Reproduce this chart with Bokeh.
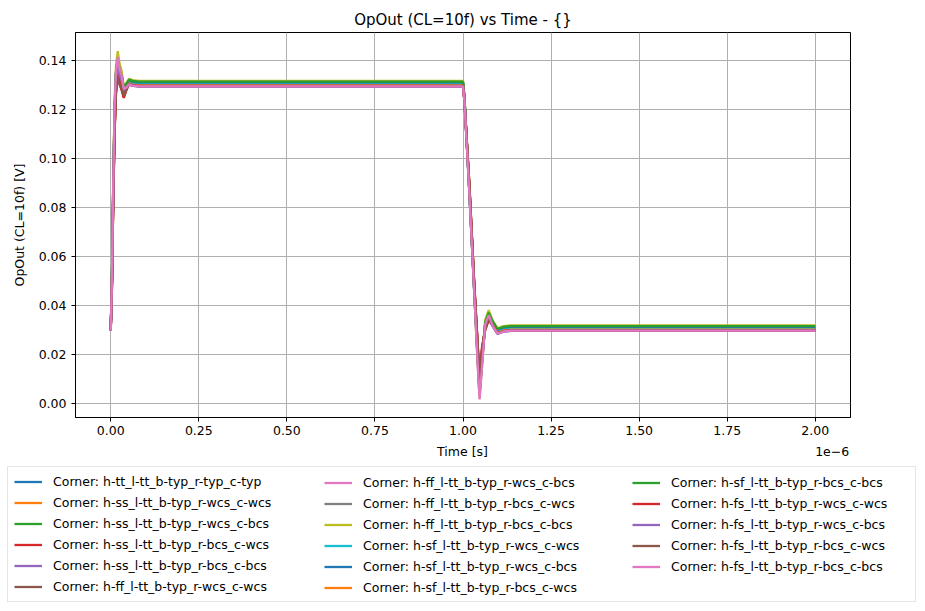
from bokeh.plotting import figure
from bokeh.layouts import column
from bokeh.models import Range1d, FixedTicker, NumeralTickFormatter, Legend, LegendItem, LinearAxis
from bokeh.embed import file_html
from bokeh.resources import INLINE

# time axis in microseconds (plot labelled "Time [s]" with 1e-6 offset)
time_us = [0.000, 0.003, 0.007, 0.011, 0.015, 0.020, 0.025, 0.031, 0.037, 0.044, 0.052, 0.062, 0.080,
           1.000, 1.004, 1.018, 1.032, 1.041, 1.047, 1.054, 1.063, 1.073, 1.084, 1.098, 1.115, 1.135, 2.000]

x_ticks = [0.0, 0.25, 0.5, 0.75, 1.0, 1.25, 1.5, 1.75, 2.0]
y_ticks = [0.00, 0.02, 0.04, 0.06, 0.08, 0.10, 0.12, 0.14]

corner_names = [
    "Corner: h-tt_l-tt_b-typ_r-typ_c-typ",
    "Corner: h-ss_l-tt_b-typ_r-wcs_c-wcs",
    "Corner: h-ss_l-tt_b-typ_r-wcs_c-bcs",
    "Corner: h-ss_l-tt_b-typ_r-bcs_c-wcs",
    "Corner: h-ss_l-tt_b-typ_r-bcs_c-bcs",
    "Corner: h-ff_l-tt_b-typ_r-wcs_c-wcs",
    "Corner: h-ff_l-tt_b-typ_r-wcs_c-bcs",
    "Corner: h-ff_l-tt_b-typ_r-bcs_c-wcs",
    "Corner: h-ff_l-tt_b-typ_r-bcs_c-bcs",
    "Corner: h-sf_l-tt_b-typ_r-wcs_c-wcs",
    "Corner: h-sf_l-tt_b-typ_r-wcs_c-bcs",
    "Corner: h-sf_l-tt_b-typ_r-bcs_c-wcs",
    "Corner: h-sf_l-tt_b-typ_r-bcs_c-bcs",
    "Corner: h-fs_l-tt_b-typ_r-wcs_c-wcs",
    "Corner: h-fs_l-tt_b-typ_r-wcs_c-bcs",
    "Corner: h-fs_l-tt_b-typ_r-bcs_c-wcs",
    "Corner: h-fs_l-tt_b-typ_r-bcs_c-bcs",
]

v_tt = [0.0305, 0.045, 0.085, 0.117, 0.134, 0.140, 0.135, 0.1333, 0.1285, 0.1297, 0.1313, 0.1308, 0.1305,
        0.1305, 0.1245, 0.088, 0.047, 0.022, 0.006, 0.019, 0.0315, 0.0355, 0.0325, 0.0293, 0.0302, 0.0305, 0.0305]
v_ss_ww = [0.0300, 0.044, 0.082, 0.112, 0.128, 0.134, 0.131, 0.1287, 0.1255, 0.1282, 0.1308, 0.1303, 0.1300,
           0.1300, 0.1240, 0.089, 0.048, 0.025, 0.009, 0.022, 0.0305, 0.0345, 0.0320, 0.0288, 0.0297, 0.0300, 0.0300]
v_ss_wb = [0.0312, 0.045, 0.083, 0.113, 0.130, 0.136, 0.1325, 0.1305, 0.1270, 0.1295, 0.1320, 0.1315, 0.1312,
           0.1312, 0.1252, 0.089, 0.048, 0.024, 0.008, 0.021, 0.0320, 0.0360, 0.0332, 0.0300, 0.0309, 0.0312, 0.0312]
v_ss_bw = [0.0300, 0.043, 0.081, 0.111, 0.127, 0.133, 0.1305, 0.1279, 0.1248, 0.1279, 0.1308, 0.1303, 0.1300,
           0.1300, 0.1240, 0.090, 0.049, 0.026, 0.010, 0.023, 0.0300, 0.0340, 0.0320, 0.0288, 0.0297, 0.0300, 0.0300]
v_ss_bb = [0.0296, 0.044, 0.082, 0.112, 0.129, 0.135, 0.1315, 0.1298, 0.1265, 0.1284, 0.1304, 0.1299, 0.1296,
           0.1296, 0.1236, 0.089, 0.048, 0.025, 0.0085, 0.021, 0.0305, 0.0345, 0.0316, 0.0284, 0.0293, 0.0296, 0.0296]
v_ff_ww = [0.0302, 0.046, 0.087, 0.120, 0.132, 0.1365, 0.1325, 0.1310, 0.1275, 0.1291, 0.1310, 0.1305, 0.1302,
           0.1302, 0.1242, 0.087, 0.046, 0.023, 0.007, 0.020, 0.0310, 0.0350, 0.0322, 0.0290, 0.0299, 0.0302, 0.0302]
v_ff_wb = [0.0310, 0.047, 0.089, 0.122, 0.136, 0.142, 0.137, 0.1345, 0.1290, 0.1302, 0.1318, 0.1313, 0.1310,
           0.1310, 0.1250, 0.086, 0.045, 0.019, 0.003, 0.016, 0.0330, 0.0370, 0.0330, 0.0298, 0.0307, 0.0310, 0.0310]
v_ff_bw = [0.0305, 0.047, 0.088, 0.121, 0.135, 0.141, 0.136, 0.1338, 0.1285, 0.1297, 0.1313, 0.1308, 0.1305,
           0.1305, 0.1245, 0.086, 0.045, 0.020, 0.004, 0.017, 0.0320, 0.0360, 0.0325, 0.0293, 0.0302, 0.0305, 0.0305]
v_ff_bb = [0.0318, 0.048, 0.090, 0.123, 0.138, 0.144, 0.139, 0.1358, 0.1295, 0.1309, 0.1326, 0.1321, 0.1318,
           0.1318, 0.1258, 0.086, 0.045, 0.018, 0.002, 0.015, 0.0340, 0.0380, 0.0338, 0.0306, 0.0315, 0.0318, 0.0318]
v_sf_ww = [0.0306, 0.046, 0.086, 0.118, 0.134, 0.1395, 0.1345, 0.1329, 0.1282, 0.1296, 0.1314, 0.1309, 0.1306,
           0.1306, 0.1246, 0.087, 0.046, 0.021, 0.0055, 0.018, 0.0315, 0.0355, 0.0326, 0.0294, 0.0303, 0.0306, 0.0306]
v_sf_wb = [0.0312, 0.046, 0.086, 0.118, 0.135, 0.1405, 0.1355, 0.1338, 0.1290, 0.1303, 0.1320, 0.1315, 0.1312,
           0.1312, 0.1252, 0.087, 0.046, 0.021, 0.005, 0.018, 0.0325, 0.0365, 0.0332, 0.0300, 0.0309, 0.0312, 0.0312]
v_sf_bw = [0.0300, 0.045, 0.085, 0.117, 0.133, 0.1385, 0.1335, 0.1322, 0.1278, 0.1291, 0.1308, 0.1303, 0.1300,
           0.1300, 0.1240, 0.088, 0.047, 0.022, 0.0065, 0.019, 0.0310, 0.0350, 0.0320, 0.0288, 0.0297, 0.0300, 0.0300]
v_sf_bb = [0.0315, 0.046, 0.087, 0.119, 0.135, 0.141, 0.136, 0.1341, 0.1292, 0.1306, 0.1323, 0.1318, 0.1315,
           0.1315, 0.1255, 0.087, 0.046, 0.020, 0.0045, 0.017, 0.0330, 0.0370, 0.0335, 0.0303, 0.0312, 0.0315, 0.0315]
v_fs_ww = [0.0298, 0.044, 0.082, 0.112, 0.128, 0.1345, 0.1315, 0.1289, 0.1252, 0.1280, 0.1306, 0.1301, 0.1298,
           0.1298, 0.1238, 0.089, 0.048, 0.025, 0.009, 0.022, 0.0300, 0.0340, 0.0318, 0.0286, 0.0295, 0.0298, 0.0298]
v_fs_wb = [0.0295, 0.045, 0.085, 0.117, 0.133, 0.139, 0.134, 0.1320, 0.1270, 0.1285, 0.1303, 0.1298, 0.1295,
           0.1295, 0.1235, 0.087, 0.046, 0.020, 0.004, 0.017, 0.0310, 0.0350, 0.0315, 0.0283, 0.0292, 0.0295, 0.0295]
v_fs_bw = [0.0297, 0.043, 0.081, 0.111, 0.127, 0.1335, 0.1305, 0.1287, 0.1258, 0.1281, 0.1305, 0.1300, 0.1297,
           0.1297, 0.1237, 0.090, 0.049, 0.026, 0.0095, 0.022, 0.0305, 0.0345, 0.0317, 0.0285, 0.0294, 0.0297, 0.0297]
v_fs_bb = [0.0296, 0.047, 0.088, 0.121, 0.136, 0.1415, 0.1365, 0.1340, 0.1285, 0.1290, 0.1304, 0.1299, 0.1296,
           0.1296, 0.1236, 0.086, 0.045, 0.018, 0.0015, 0.015, 0.0320, 0.0360, 0.0316, 0.0284, 0.0293, 0.0296, 0.0296]

all_series = [v_tt, v_ss_ww, v_ss_wb, v_ss_bw, v_ss_bb, v_ff_ww, v_ff_wb, v_ff_bw, v_ff_bb,
              v_sf_ww, v_sf_wb, v_sf_bw, v_sf_bb, v_fs_ww, v_fs_wb, v_fs_bw, v_fs_bb]

tab10 = ["#1f77b4", "#ff7f0e", "#2ca02c", "#d62728", "#9467bd",
         "#8c564b", "#e377c2", "#7f7f7f", "#bcbd22", "#17becf"]

FONT = "DejaVu Sans"
W, H = 920, 465
FL, FT, FR, FB = 75, 32, 850, 417   # frame edges in page px
LINE_W = 2.3

p = figure(width=W, height=H, output_backend="svg", toolbar_location=None,
           title="OpOut (CL=10f) vs Time - {}",
           x_range=Range1d(-0.1, 2.1), y_range=Range1d(-0.0059, 0.1516),
           min_border_left=FL, min_border_right=W - FR, min_border_top=FT, min_border_bottom=H - FB)
p.frame_align = False
p.background_fill_color = "white"
p.border_fill_color = "white"
p.outline_line_color = "black"
p.outline_line_width = 1
p.outline_line_alpha = 1

p.title.align = "center"
p.title.text_font = FONT
p.title.text_font_size = "15px"
p.title.text_font_style = "normal"
p.title.text_color = "black"
p.title.standoff = 7
p.title.offset = 0

p.grid.grid_line_color = "#b0b0b0"
p.grid.grid_line_width = 1
p.xaxis.ticker = FixedTicker(ticks=x_ticks)
p.yaxis.ticker = FixedTicker(ticks=y_ticks)
p.xaxis.formatter = NumeralTickFormatter(format="0.00")
p.yaxis.formatter = NumeralTickFormatter(format="0.00")
for ax in (p.xaxis, p.yaxis):
    ax.axis_line_color = "black"
    ax.major_tick_line_color = "black"
    ax.major_tick_out = 4
    ax.major_tick_in = 0
    ax.minor_tick_line_color = None
    ax.major_label_text_font = FONT
    ax.major_label_text_font_size = "12.5px"
    ax.major_label_text_color = "black"
    ax.axis_label_text_font = FONT
    ax.axis_label_text_font_size = "12.5px"
    ax.axis_label_text_font_style = "normal"
    ax.axis_label_text_color = "black"
p.xaxis.major_label_standoff = 4
p.yaxis.major_label_standoff = 5
p.yaxis.axis_label = "OpOut (CL=10f) [V]"
p.yaxis.axis_label_standoff = 9

# second row under the x tick labels: axis title and the 1e-6 offset text
label_ticks = [0.9986, 2.048]
label_texts = {0.9986: "Time [s]", 2.048: "1e\u22126"}
ax2 = LinearAxis(ticker=FixedTicker(ticks=label_ticks), major_label_overrides=label_texts,
                 axis_line_color=None, major_tick_line_color=None, minor_tick_line_color=None,
                 major_tick_out=0, major_tick_in=0, major_label_standoff=6,
                 major_label_text_font=FONT, major_label_text_font_size="12.5px",
                 major_label_text_color="black")
p.add_layout(ax2, "below")

for i, vals in enumerate(all_series):
    p.line(time_us, vals, line_color=tab10[i % 10], line_width=LINE_W)

# legend panel below the axes (same colours, sample lines only; proxies hold no drawable data)
LH = 140
pl = figure(width=W, height=LH, output_backend="svg", toolbar_location=None,
            x_axis_type=None, y_axis_type=None, x_range=Range1d(0, 1), y_range=Range1d(0, 1),
            min_border_left=0, min_border_right=0, min_border_top=0, min_border_bottom=0)
pl.frame_align = False
pl.outline_line_color = None
pl.grid.visible = False
pl.background_fill_color = "white"
pl.border_fill_color = "white"
nan = float("nan")
legend_renderers = [pl.line([nan], [nan], line_color=tab10[i % 10], line_width=LINE_W)
                    for i in range(len(corner_names))]

cols = [list(range(0, 6)), list(range(6, 12)), list(range(12, 17))]
col_left = [7, 324, 632]
common = dict(padding=6, margin=0, spacing=4, glyph_width=28, glyph_height=17, label_height=17,
              label_standoff=11, label_text_font=FONT, label_text_font_size="12.5px",
              label_text_color="black")
for k, idx in enumerate(cols):
    items = [LegendItem(label=corner_names[j], renderers=[legend_renderers[j]]) for j in idx]
    if k == 0:
        lg = Legend(items=items, location=(col_left[k], 3), label_width=856,
                    border_line_color="#cccccc", border_line_width=1,
                    background_fill_color="white", background_fill_alpha=1, **common)
    else:
        vy = 9 + (6 - len(idx)) * 21
        lg = Legend(items=items, location=(col_left[k], vy),
                    border_line_color=None, background_fill_alpha=0, **common)
    pl.add_layout(lg, "center")

open("out.html", "w").write(file_html(column(p, pl, spacing=0), INLINE))
